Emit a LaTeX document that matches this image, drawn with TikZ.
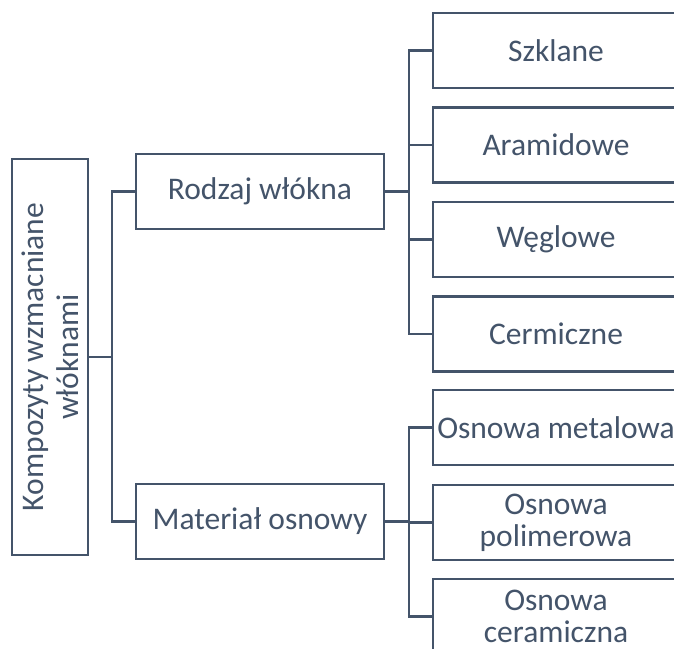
\documentclass[tikz,border=0pt]{standalone}
\usepackage{fontspec}
\setmainfont{Carlito}
\definecolor{slate}{HTML}{44546A}
\begin{document}
\begin{tikzpicture}[x=1pt, y=-1pt,
  every node/.style={font=\fontsize{31.5}{32}\selectfont, text=slate, align=center},
  box/.style={draw=slate, line width=2.5pt, fill=white, inner sep=0pt, minimum height=75pt},
  midbox/.style={box, minimum width=248pt},
  leafbox/.style={box, minimum width=246pt},
  link/.style={draw=slate, line width=2.2pt}]
  \useasboundingbox (0,0) rectangle (674,648);
  \clip (0,0) rectangle (674,648);

  % root box, text running upwards
  \node[box, rotate=90, minimum width=396pt, minimum height=76pt,
        font=\fontsize{31.5}{35}\selectfont] (root) at (50,357)
        {Kompozyty wzmacniane\\włóknami};

  % second level
  \node[midbox] (rodzaj) at (260,191.5) {Rodzaj włókna};
  \node[midbox] (material) at (260,521.5) {Materiał osnowy};

  % fibre types
  \node[leafbox] (szklane) at (556,50.5) {Szklane};
  \node[leafbox] (aramid) at (556,145) {Aramidowe};
  \node[leafbox] (weglowe) at (556,239.5) {Węglowe};
  \node[leafbox] (ceram) at (556,334) {Cermiczne};

  % matrix types
  \node[leafbox] (metal) at (556,427.5) {Osnowa metalowa};
  \node[leafbox] (polimer) at (556,522.5) {Osnowa\\polimerowa};
  \node[leafbox] (ceramm) at (556,616.5) {Osnowa\\ceramiczna};

  % connectors
  \coordinate (j0) at (112,357);
  \coordinate (j1) at (409,191.5);
  \coordinate (j2) at (409,521.5);

  \draw[link] (root.south) -- (j0);
  \draw[link] (j0) |- (rodzaj.west);
  \draw[link] (j0) |- (material.west);

  \draw[link] (rodzaj.east) -- (j1);
  \draw[link] (j1) |- (szklane.west);
  \draw[link] (j1) |- (aramid.west);
  \draw[link] (j1) |- (weglowe.west);
  \draw[link] (j1) |- (ceram.west);

  \draw[link] (material.east) -- (j2);
  \draw[link] (j2) |- (metal.west);
  \draw[link] (j2) |- (polimer.west);
  \draw[link] (j2) |- (ceramm.west);
\end{tikzpicture}
\end{document}
